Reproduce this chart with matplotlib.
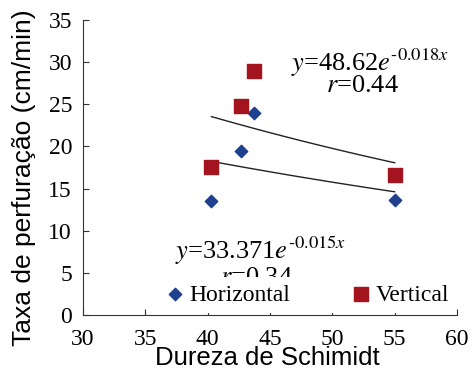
import matplotlib.pyplot as plt
import numpy as np

# Schmidt hardness vs. drilling rate, horizontal and vertical holes
horiz_x = [40.3, 42.7, 43.7, 55.0]
horiz_y = [13.5, 19.5, 24.0, 13.6]
vert_x = [40.3, 42.7, 43.7, 55.0]
vert_y = [17.6, 24.8, 28.9, 16.6]

# exponential fits y = a * exp(b * x)
fit_vert = (48.62, -0.018)
fit_horiz = (33.371, -0.015)
fit_range = (40.3, 55.0)

BLUE = "#1f3f8f"
RED = "#a3141f"

plt.rcParams["mathtext.fontset"] = "stix"
serif = "Liberation Serif"
sans = "Liberation Sans"

fig = plt.figure(figsize=(4.75, 3.69), dpi=100)
ax = fig.add_axes([0.175, 0.146, 0.787, 0.8])

ax.scatter(horiz_x, horiz_y, marker="D", s=40, color=BLUE, label="Horizontal", zorder=3)
ax.scatter(vert_x, vert_y, marker="s", s=110, color=RED, label="Vertical", zorder=3)

xs = np.linspace(*fit_range, 50)
for a, b in (fit_vert, fit_horiz):
    ax.plot(xs, a * np.exp(b * xs), color="#222222", lw=1.0, zorder=2)

eq_kw = dict(fontsize=19, family=serif, ha="center", va="center")
ax.text(53.0, 29.9, r"$y$=48.62$e^{\text{-}0.018x}$", **eq_kw)
ax.text(52.4, 27.2, r"$r$=0.44", **eq_kw)
ax.text(44.2, 7.6, r"$y$=33.371$e^{\text{-}0.015x}$", **eq_kw)
ax.text(43.9, 4.4, r"$r$=0.34", **eq_kw)

# white legend box sits over the lower r label
leg = ax.legend(loc="lower center", bbox_to_anchor=(0.6, -0.032), ncol=2, frameon=True,
                framealpha=1, edgecolor="none", fancybox=False, columnspacing=2.6,
                handletextpad=0.2, handlelength=0.8, borderpad=0.3,
                prop={"family": serif, "size": 17})
leg.set_zorder(5)

ax.set_xlim(30, 60)
ax.set_ylim(0, 35)
ax.set_xticks(range(30, 61, 5))
ax.set_yticks(range(0, 36, 5))
for lab in ax.get_xticklabels() + ax.get_yticklabels():
    lab.set_fontfamily(serif)
    lab.set_fontsize(17)
ax.tick_params(direction="in", length=4, color="#333333")
ax.tick_params(axis="x", pad=10)
ax.tick_params(axis="y", pad=8)
for side in ("top", "right"):
    ax.spines[side].set_visible(False)
for side in ("left", "bottom"):
    ax.spines[side].set_color("#333333")

ax.set_xlabel("Dureza de Schimidt", fontsize=18.5, family=sans, va="top")
ax.set_ylabel("Taxa de perfuração (cm/min)", fontsize=19, family=sans)
ax.xaxis.set_label_coords(0.493, -0.106)
ax.yaxis.set_label_coords(-0.126, 0.464)

fig.savefig("out.png", dpi=100)
